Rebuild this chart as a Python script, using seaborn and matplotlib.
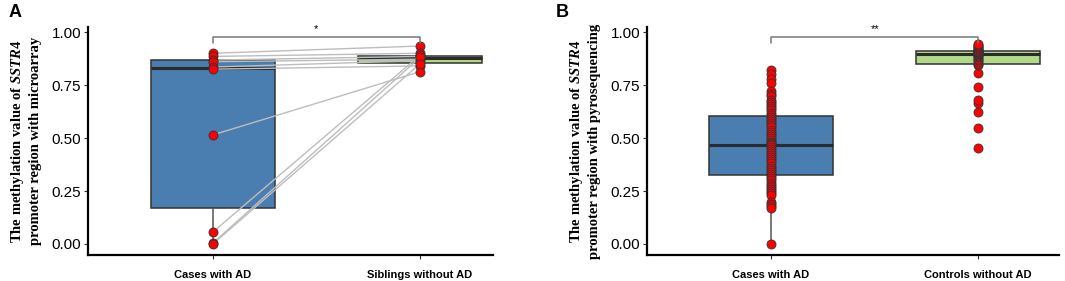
import pandas as pd
import seaborn as sns
import matplotlib.pyplot as plt

# panel A: paired microarray values (case i <-> sibling i)
cases_a = [0.90, 0.885, 0.868, 0.86, 0.835, 0.825, 0.515, 0.057, 0.005, 0.0]
siblings_a = [0.934, 0.90, 0.885, 0.872, 0.865, 0.84, 0.813, 0.89, 0.88, 0.85]
groups_a = ['Cases with AD', 'Siblings without AD']

# panel B: pyrosequencing values
cases_b = [0.82, 0.80, 0.78, 0.76, 0.72, 0.71, 0.70, 0.68, 0.67, 0.66, 0.65, 0.64,
           0.63, 0.62, 0.61, 0.60, 0.59, 0.58, 0.57, 0.56, 0.55, 0.54, 0.53, 0.52,
           0.51, 0.50, 0.49, 0.48, 0.475, 0.47, 0.465, 0.46, 0.45, 0.44, 0.43, 0.42,
           0.41, 0.40, 0.39, 0.38, 0.37, 0.36, 0.35, 0.34, 0.33, 0.32, 0.31, 0.30,
           0.29, 0.28, 0.27, 0.26, 0.25, 0.24, 0.23, 0.20, 0.19, 0.18, 0.17, 0.0]
controls_b = [0.455, 0.545, 0.625, 0.665, 0.68, 0.74, 0.805,
              0.845, 0.85, 0.86, 0.87, 0.875, 0.88, 0.885, 0.89, 0.895, 0.897,
              0.90, 0.90, 0.902, 0.905, 0.907, 0.91, 0.91, 0.912, 0.915, 0.92,
              0.925, 0.93, 0.935, 0.94, 0.945]
groups_b = ['Cases with AD', 'Controls without AD']

yticks = [0.00, 0.25, 0.50, 0.75, 1.00]
colors = ['#4A7DB0', '#B2D88A']

sns.set_style('white')
plt.rcParams['font.family'] = ['Liberation Sans', 'DejaVu Sans']
plt.rcParams['mathtext.fontset'] = 'custom'
plt.rcParams['mathtext.it'] = 'Liberation Serif:bold:italic'
plt.rcParams['mathtext.rm'] = 'Liberation Serif:bold'


def make_df(groups, vals1, vals2):
    df = pd.DataFrame({'group': [groups[0]] * len(vals1) + [groups[1]] * len(vals2),
                       'value': list(vals1) + list(vals2)})
    df['group'] = pd.Categorical(df['group'], categories=groups)
    return df


def draw_panel(ax, df, groups, ylabel, star, pairs=None):
    sns.boxplot(data=df, x='group', y='value', hue='group', palette=colors, legend=False,
                saturation=1, width=0.6, showcaps=False, showfliers=False, linewidth=1.1,
                linecolor='#333333', medianprops={'linewidth': 2.2, 'color': '#2b2b2b'},
                whiskerprops={'color': '#555555'}, ax=ax, zorder=1)
    if pairs is not None:
        for a, b in zip(*pairs):
            ax.plot([0, 1], [a, b], color='#bdbdbd', lw=1, zorder=2)
    sns.stripplot(data=df, x='group', y='value', jitter=False, color='#FF0000',
                  edgecolor='#333333', linewidth=0.6, size=6.5, ax=ax, zorder=3)
    # significance bracket
    ax.plot([0, 0, 1, 1], [0.95, 0.978, 0.978, 0.95], color='#777777', lw=1.1,
            clip_on=False, zorder=4)
    ax.text(0.5, 0.99, star, ha='center', va='bottom', fontsize=8, color='black',
            clip_on=False)

    ax.set_ylim(-0.052, 1.024)
    ax.set_yticks(yticks)
    ax.set_yticklabels(['%.2f' % t for t in yticks], fontsize=11)
    ax.set_xticks([0, 1])
    ax.set_xticklabels(groups, fontsize=8, fontweight='bold')
    ax.set_xlabel('')
    ax.set_ylabel(ylabel, fontsize=10.5, fontfamily='Liberation Serif', fontweight='bold',
                  linespacing=1.25, labelpad=7, color='black')
    for s in ['top', 'right']:
        ax.spines[s].set_visible(False)
    for s in ['left', 'bottom']:
        ax.spines[s].set_linewidth(1.6)
        ax.spines[s].set_color('black')
    ax.tick_params(axis='both', direction='out', length=3, width=0.8, color='#333333',
                   labelcolor='black', left=True, bottom=True, pad=2)
    ax.tick_params(axis='x', pad=8)


fig = plt.figure(figsize=(10.65, 2.81), dpi=100)
ax1 = fig.add_axes([0.0826, 0.0925, 0.3803, 0.8115])
ax2 = fig.add_axes([0.6075, 0.0925, 0.3869, 0.8115])

df_a = make_df(groups_a, cases_a, siblings_a)
df_b = make_df(groups_b, cases_b, controls_b)

draw_panel(ax1, df_a, groups_a,
           'The methylation value of $\\mathit{SSTR4}$\npromoter region with microarray',
           '*', pairs=(cases_a, siblings_a))
ax1.set_xlim(-0.604, 1.353)

draw_panel(ax2, df_b, groups_b,
           'The methylation value of $\\mathit{SSTR4}$\npromoter region with pyrosequencing',
           '**')
ax2.set_xlim(-0.599, 1.39)

fig.text(0.008, 0.955, 'A', fontsize=13, fontweight='bold', va='center', color='black')
fig.text(0.522, 0.955, 'B', fontsize=13, fontweight='bold', va='center', color='black')

plt.savefig('out.png', dpi=100)
